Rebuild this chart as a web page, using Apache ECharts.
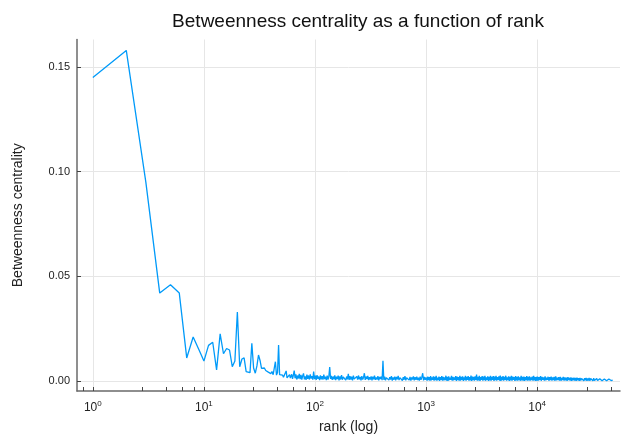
<!DOCTYPE html>
<html>
<head>
    <meta charset="utf-8">
    <title>Betweenness centrality</title>
    <script src="https://cdn.jsdelivr.net/npm/echarts@6/dist/echarts.min.js"></script>
    <style>
        html, body { margin: 0; padding: 0; background: #fff; }
        #chart { width: 622px; height: 438px; }
    </style>
</head>
<body>
<div id="chart"></div>
<script>
    // ranks 1..60, one value per rank
    var headValues = [
        0.145, 0.158, 0.095, 0.042, 0.046, 0.042, 0.011, 0.021, 0.015, 0.0095,
        0.017, 0.0185, 0.0053, 0.0225, 0.013, 0.0155, 0.0148, 0.0068, 0.0095, 0.033,
        0.0068, 0.0105, 0.0110, 0.0045, 0.0050, 0.0040, 0.0180, 0.0062, 0.0037, 0.0072,
        0.0124, 0.0098, 0.0060, 0.0058, 0.0062, 0.0050, 0.0055, 0.0042, 0.0048, 0.0035,
        0.0045, 0.0030, 0.0038, 0.0092, 0.0028, 0.0040, 0.0172, 0.0030, 0.0022, 0.0035,
        0.0028, 0.0018, 0.0025, 0.0020, 0.0048, 0.0015, 0.0024, 0.0018, 0.0030, 0.0014
    ];

    // sampled tail, rank 61 .. 1000 (log spaced)
    var tailA = [
        0.0032, 0.0010, 0.0028, 0.0050, 0.0013, 0.0031, 0.0007, 0.0026, 0.0012, 0.0034,
        0.0009, 0.0029, 0.0006, 0.0024, 0.0036, 0.0008, 0.0022, 0.0005, 0.0030, 0.0010,
        0.0026, 0.0007, 0.0032, 0.0011, 0.0023, 0.0006, 0.0045, 0.0009, 0.0025, 0.0005,
        0.0028, 0.0010, 0.0021, 0.0004, 0.0027, 0.0008, 0.0023, 0.0006, 0.0030, 0.0009,
        0.0020, 0.0004, 0.0026, 0.0007, 0.0022, 0.0066, 0.0010, 0.0024, 0.0005, 0.0021,
        0.0008, 0.0027, 0.0004, 0.0020, 0.0009, 0.0025, 0.0003, 0.0022, 0.0007, 0.0028,
        0.0006, 0.0019, 0.0010, 0.0024, 0.0004, 0.0021, 0.0008, 0.0034, 0.0005, 0.0023,
        0.0007, 0.0020, 0.0003, 0.0025, 0.0009, 0.0018, 0.0004, 0.0022, 0.0006, 0.0026,
        0.0008, 0.0019, 0.0003, 0.0023, 0.0007, 0.0017, 0.0037, 0.0005, 0.0021, 0.0009,
        0.0024, 0.0004, 0.0018, 0.0007, 0.0022, 0.0003, 0.0020, 0.0008, 0.0025, 0.0005,
        0.0017, 0.0007, 0.0023, 0.0003, 0.0019, 0.0009, 0.0021, 0.0004, 0.0097, 0.0006,
        0.0020, 0.0003, 0.0016, 0.0008, 0.0022, 0.0004, 0.0018, 0.0007, 0.0023, 0.0002,
        0.0017, 0.0006, 0.0021, 0.0003, 0.0019, 0.0008, 0.0024, 0.0004, 0.0016, 0.0007,
        0.0020, 0.0002, 0.0018, 0.0006, 0.0023, 0.0003, 0.0015, 0.0008, 0.0021, 0.0004,
        0.0019, 0.0002, 0.0017, 0.0007, 0.0022, 0.0003, 0.0018, 0.0006, 0.0020, 0.0004,
        0.0016, 0.0002, 0.0021, 0.0005, 0.0018, 0.0037, 0.0003, 0.0019, 0.0006, 0.0017
    ];

    // rank 1000 .. 10000
    var tailB = [
        0.0016, 0.0002, 0.0021, 0.0004, 0.0018, 0.0001, 0.0023, 0.0003, 0.0017, 0.0005,
        0.0022, 0.0001, 0.0019, 0.0004, 0.0024, 0.0002, 0.0016, 0.0004, 0.0021, 0.0000,
        0.0018, 0.0005, 0.0023, 0.0001, 0.0020, 0.0003, 0.0017, 0.0004, 0.0025, 0.0002,
        0.0019, 0.0000, 0.0022, 0.0004, 0.0016, 0.0006, 0.0024, 0.0001, 0.0020, 0.0003,
        0.0017, 0.0005, 0.0023, 0.0000, 0.0021, 0.0004, 0.0018, 0.0002, 0.0025, 0.0001,
        0.0019, 0.0005, 0.0022, 0.0000, 0.0017, 0.0004, 0.0024, 0.0002, 0.0020, 0.0005,
        0.0023, 0.0001, 0.0018, 0.0003, 0.0026, 0.0000, 0.0021, 0.0004, 0.0019, 0.0002,
        0.0022, 0.0005, 0.0030, 0.0001, 0.0020, 0.0003, 0.0025, 0.0000, 0.0018, 0.0005,
        0.0023, 0.0002, 0.0021, 0.0004, 0.0024, 0.0001, 0.0017, 0.0005, 0.0022, 0.0000,
        0.0020, 0.0003, 0.0025, 0.0002, 0.0019, 0.0005, 0.0023, 0.0000, 0.0021, 0.0004,
        0.0024, 0.0001, 0.0018, 0.0005, 0.0022, 0.0002, 0.0026, 0.0000, 0.0020, 0.0004,
        0.0023, 0.0001, 0.0019, 0.0005, 0.0025, 0.0002, 0.0017, 0.0004, 0.0022, 0.0000,
        0.0020, 0.0003, 0.0024, 0.0001, 0.0021, 0.0005, 0.0018, 0.0000, 0.0023, 0.0003,
        0.0019, 0.0002, 0.0022, 0.0004, 0.0017, 0.0001, 0.0024, 0.0003, 0.0020, 0.0002,
        0.0021, 0.0000, 0.0018, 0.0004, 0.0023, 0.0001, 0.0019, 0.0003, 0.0022, 0.0002,
        0.0017, 0.0004, 0.0021, 0.0001, 0.0024, 0.0003, 0.0018, 0.0000, 0.0020, 0.0002
    ];

    // rank 10000 .. ~48000
    var tailC = [
        0.0021, 0.0002, 0.0018, 0.0004, 0.0023, 0.0001, 0.0019, 0.0005, 0.0017, 0.0002,
        0.0022, 0.0003, 0.0016, 0.0005, 0.0020, 0.0001, 0.0018, 0.0004, 0.0021, 0.0002,
        0.0017, 0.0004, 0.0019, 0.0001, 0.0022, 0.0003, 0.0016, 0.0004, 0.0018, 0.0002,
        0.0020, 0.0001, 0.0015, 0.0004, 0.0019, 0.0002, 0.0017, 0.0003, 0.0016, 0.0001,
        0.0018, 0.0004, 0.0015, 0.0002, 0.0017, 0.0001, 0.0014, 0.0003, 0.0016, 0.0002,
        0.0015, 0.0001, 0.0016, 0.0003, 0.0013, 0.0001, 0.0015, 0.0002, 0.0012, 0.0004,
        0.0014, 0.0001, 0.0013, 0.0003, 0.0015, 0.0001, 0.0012, 0.0002, 0.0014, 0.0001,
        0.0012, 0.0003, 0.0011, 0.0001, 0.0013, 0.0002, 0.0010, 0.0001, 0.0012, 0.0002,
        0.0011, 0.0001, 0.0010, 0.0003, 0.0012, 0.0001, 0.0010, 0.0002, 0.0009, 0.0004,
        0.0011, 0.0001, 0.0010, 0.0002, 0.0009, 0.0001, 0.0010, 0.0002, 0.0008, 0.0004
    ];

    // exponent ranges of the sampled tail pieces
    var tailRanges = [[1.79, 3.0], [3.003, 4.0], [4.003, 4.68]];

    var xTickLabels = [1, 10, 100, 1000, 10000];
    var xMinorSteps = [1, 2.8, 4.6, 6.4, 8.2];
    var yTicks = [0, 0.05, 0.10, 0.15];

    var points = headValues.map(function (v, i) { return [i + 1, v]; });
    [tailA, tailB, tailC].forEach(function (vals, k) {
        var lo = tailRanges[k][0], hi = tailRanges[k][1];
        vals.forEach(function (v, i) {
            points.push([Math.pow(10, lo + (hi - lo) * i / (vals.length - 1)), v]);
        });
    });

    var xTicks = [0.82];
    xTickLabels.forEach(function (p) {
        xMinorSteps.forEach(function (s) { xTicks.push(p * s); });
    });

    var supDigits = ['0', '1', '2', '3', '4'];

    var chart = echarts.init(document.getElementById('chart'));
    var font = 'Liberation Sans, Arial, sans-serif';
    var xMin = 0.72, xMax = 55700;
    var option = {
        animation: false,
        backgroundColor: '#ffffff',
        title: {
            text: 'Betweenness centrality as a function of rank',
            left: 353,
            top: 7,
            textAlign: 'center',
            textStyle: { fontFamily: font, fontSize: 19, fontWeight: 'normal', color: '#111' }
        },
        grid: { left: 77, right: 2, top: 39.5, bottom: 47, outerBoundsMode: 'none' },
        xAxis: [{
            type: 'log',
            logBase: 10,
            min: xMin,
            max: xMax,
            name: 'rank (log)',
            nameLocation: 'middle',
            nameGap: 29,
            nameTextStyle: { fontFamily: font, fontSize: 14, color: '#222' },
            axisLine: { onZero: false, lineStyle: { color: '#6a6a6a', width: 1.5 } },
            axisTick: { show: false, customValues: xTickLabels },
            splitLine: { show: true, lineStyle: { color: '#e6e6e6', width: 1 } },
            axisLabel: {
                customValues: xTickLabels,
                margin: 9,
                formatter: function (v) {
                    var e = Math.round(Math.log(v) / Math.LN10);
                    return '{b|10}{s|' + supDigits[e] + '}';
                },
                rich: {
                    b: { fontFamily: font, fontSize: 12, color: '#222' },
                    s: { fontFamily: font, fontSize: 8, color: '#222', padding: [0, 0, 8, 0] }
                }
            }
        }, {
            // second axis only to draw the minor ticks
            type: 'log',
            logBase: 10,
            position: 'bottom',
            min: xMin,
            max: xMax,
            axisLine: { show: false, onZero: false },
            axisTick: { show: true, inside: true, length: 4, customValues: xTicks, lineStyle: { color: '#444' } },
            splitLine: { show: false },
            axisLabel: { show: false }
        }],
        yAxis: {
            type: 'value',
            min: -0.0048,
            max: 0.1632,
            name: 'Betweenness centrality',
            nameLocation: 'middle',
            nameGap: 52,
            nameTextStyle: { fontFamily: font, fontSize: 14, color: '#222' },
            axisLine: { show: true, lineStyle: { color: '#6a6a6a', width: 1.5 } },
            axisTick: { show: true, inside: true, length: 4, customValues: yTicks, lineStyle: { color: '#444' } },
            splitLine: { show: true, lineStyle: { color: '#e6e6e6', width: 1 } },
            axisLabel: {
                customValues: yTicks,
                margin: 7,
                fontFamily: font,
                fontSize: 11,
                color: '#222',
                formatter: function (v) { return v.toFixed(2); }
            }
        },
        series: [{
            type: 'line',
            data: points,
            showSymbol: false,
            symbol: 'none',
            lineStyle: { color: '#009af9', width: 1.3 }
        }]
    };
    chart.setOption(option);
</script>
</body>
</html>
